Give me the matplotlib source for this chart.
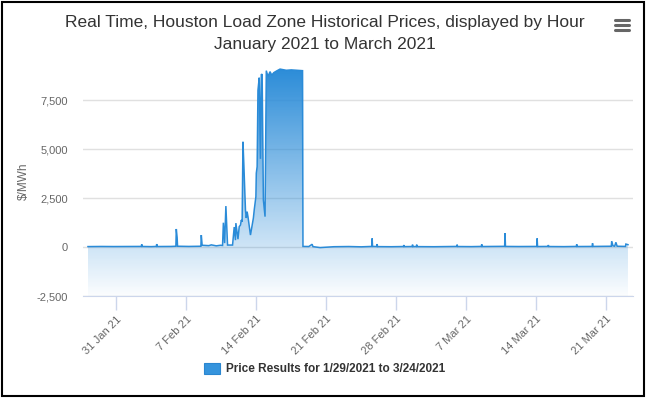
import numpy as np
import pandas as pd
import matplotlib
matplotlib.use("Agg")
import matplotlib.pyplot as plt
import matplotlib.dates as mdates
from matplotlib.patches import Rectangle
from matplotlib.lines import Line2D

plt.rcParams['font.family'] = ['Liberation Sans', 'DejaVu Sans']

# hourly RT prices, Houston load zone ($/MWh)
times = [
    "2021-01-28 04:00", "2021-01-29 12:00", "2021-01-30 18:00", "2021-02-01 06:00",
    "2021-02-02 12:00", "2021-02-02 13:00", "2021-02-02 14:00", "2021-02-03 12:00",
    "2021-02-04 00:00", "2021-02-04 01:00", "2021-02-04 02:00", "2021-02-05 12:00",
    "2021-02-05 23:00", "2021-02-06 00:00", "2021-02-06 02:00", "2021-02-06 03:00",
    "2021-02-07 06:00", "2021-02-08 11:00", "2021-02-08 12:00", "2021-02-08 14:00",
    "2021-02-09 06:00", "2021-02-09 12:00", "2021-02-10 00:00", "2021-02-10 10:00",
    "2021-02-10 15:00", "2021-02-10 17:00", "2021-02-10 20:00", "2021-02-10 23:00",
    "2021-02-11 03:00", "2021-02-11 15:00", "2021-02-11 19:00", "2021-02-11 22:00",
    "2021-02-11 23:00", "2021-02-12 04:00", "2021-02-12 07:00", "2021-02-12 10:00",
    "2021-02-12 12:00", "2021-02-12 14:00", "2021-02-12 16:00", "2021-02-12 18:00",
    "2021-02-12 22:00", "2021-02-13 00:00", "2021-02-13 02:00", "2021-02-13 04:00",
    "2021-02-13 10:00", "2021-02-13 14:00", "2021-02-13 17:00", "2021-02-13 19:00",
    "2021-02-13 23:00", "2021-02-14 00:00", "2021-02-14 02:00", "2021-02-14 04:00",
    "2021-02-14 07:00", "2021-02-14 10:00", "2021-02-14 12:00", "2021-02-14 14:00",
    "2021-02-14 17:00", "2021-02-14 21:00", "2021-02-15 00:00", "2021-02-15 04:00",
    "2021-02-15 09:00", "2021-02-15 13:00", "2021-02-15 18:00", "2021-02-16 02:00",
    "2021-02-16 09:00", "2021-02-17 00:00", "2021-02-17 12:00", "2021-02-18 06:00",
    "2021-02-18 15:00", "2021-02-18 16:00", "2021-02-19 06:00", "2021-02-19 14:00",
    "2021-02-19 16:00", "2021-02-20 09:00", "2021-02-21 18:00", "2021-02-23 06:00",
    "2021-02-24 12:00", "2021-02-25 13:00", "2021-02-25 14:00", "2021-02-25 15:00",
    "2021-02-26 01:00", "2021-02-26 02:00", "2021-02-26 03:00", "2021-02-27 12:00",
    "2021-02-28 17:00", "2021-02-28 18:00", "2021-02-28 19:00", "2021-03-01 14:00",
    "2021-03-01 15:00", "2021-03-01 16:00", "2021-03-02 00:00", "2021-03-02 01:00",
    "2021-03-02 02:00", "2021-03-03 18:00", "2021-03-05 06:00", "2021-03-06 01:00",
    "2021-03-06 02:00", "2021-03-06 03:00", "2021-03-07 12:00", "2021-03-08 12:00",
    "2021-03-08 13:00", "2021-03-08 14:00", "2021-03-09 18:00", "2021-03-10 20:00",
    "2021-03-10 21:00", "2021-03-10 22:00", "2021-03-12 06:00", "2021-03-14 01:00",
    "2021-03-14 02:00", "2021-03-14 03:00", "2021-03-15 04:00", "2021-03-15 05:00",
    "2021-03-15 06:00", "2021-03-16 18:00", "2021-03-18 00:00", "2021-03-18 01:00",
    "2021-03-18 02:00", "2021-03-19 14:00", "2021-03-19 15:00", "2021-03-19 16:00",
    "2021-03-20 18:00", "2021-03-21 12:00", "2021-03-21 13:00", "2021-03-21 16:00",
    "2021-03-21 20:00", "2021-03-21 23:00", "2021-03-22 02:00", "2021-03-22 22:00",
    "2021-03-22 23:00", "2021-03-23 04:00",
]
prices = [
    22, 28, 24, 30,
    30, 140, 28, 20,
    30, 150, 25, 30,
    40, 920, 480, 40,
    30, 40, 610, 90,
    70, 110, 60, 90,
    80, 1240, 200, 2090,
    100, 100, 1020, 350,
    1220, 400, 1040, 1120,
    1380, 1290, 5370, 4280,
    1890, 1480, 1800, 1550,
    610, 1120, 1480, 1890,
    2570, 3770, 4100, 8000,
    8640, 4500, 8800, 8820,
    2400, 1550, 9000, 8700,
    8950, 8770, 8900, 9000,
    9080, 9020, 9040, 9010,
    9000, 30, 25, 140,
    20, -30, 15, 25,
    10, 30, 440, 30,
    25, 150, 20, 15,
    25, 100, 20, 25,
    120, 20, 25, 120,
    20, 15, 25, 30,
    120, 25, 20, 30,
    140, 25, 30, 35,
    700, 30, 25, 30,
    440, 25, 30, 100,
    25, 20, 30, 140,
    25, 30, 190, 30,
    35, 40, 300, 60,
    40, 240, 40, 30,
    150, 120,
]

ytick_vals = [-2500, 0, 2500, 5000, 7500]
xtick_dates = ["2021-01-31", "2021-02-07", "2021-02-14", "2021-02-21",
               "2021-02-28", "2021-03-07", "2021-03-14", "2021-03-21"]
xtick_labels = ["31 Jan 21", "7 Feb 21", "14 Feb 21", "21 Feb 21",
                "28 Feb 21", "7 Mar 21", "14 Mar 21", "21 Mar 21"]
legend_label = "Price Results for 1/29/2021 to 3/24/2021"

x = mdates.date2num(pd.to_datetime(times))
y = np.array(prices, dtype=float)

W, H = 648, 399
fig = plt.figure(figsize=(W / 100, H / 100), dpi=100)
ax = fig.add_axes([83 / W, 103 / H, 550 / W, 241 / H])

ymin, ymax = -2500, 9800
base = mdates.date2num(pd.Timestamp("2021-01-31"))
ax.set_xlim(base - 3.33, base + 51.67)
ax.set_ylim(ymin, ymax)

# spines first: set_position resets the ticks
for s in ['top', 'right', 'left']:
    ax.spines[s].set_visible(False)
ax.spines['bottom'].set_color('#ccd6eb')
ax.spines['bottom'].set_position(('data', ymin))

# area with vertical gradient clipped to it
poly = ax.fill_between(x, y, ymin, facecolor='none', edgecolor='none')
grad = np.zeros((256, 1, 4))
grad[:, 0, 0] = 0.17
grad[:, 0, 1] = 0.55
grad[:, 0, 2] = 0.85
grad[:, 0, 3] = np.linspace(1.0, 0.02, 256)
im = ax.imshow(grad, extent=[x.min(), x.max(), ymin, 9050], aspect='auto',
               origin='upper', zorder=2)
im.set_clip_path(poly.get_paths()[0], transform=ax.transData)
ax.plot(x, y, color='#2a8bd8', lw=1.1, zorder=3, solid_joinstyle='miter')

ax.set_yticks(ytick_vals)
ax.set_yticklabels([f"{v:,}" for v in ytick_vals])
ax.yaxis.grid(True, color='#e0e0e0', lw=1)
ax.set_axisbelow(True)
ax.tick_params(axis='y', length=0, pad=11, labelsize=8, labelcolor='#666666')

ax.tick_params(axis='x', length=10, width=1, color='#ccd6eb', pad=3,
               labelsize=8, labelcolor='#666666')
ax.set_xticks(mdates.date2num(pd.to_datetime(xtick_dates)))
ax.set_xticklabels(xtick_labels, rotation=45, ha='right',
                   rotation_mode='anchor')

ax.set_ylabel("$/MWh", color='#666666', fontsize=8.5)
ax.yaxis.set_label_coords((30 - 83) / 550, (296 - 181) / 241)

fig.text(325 / W, 1 - 22 / H,
         "Real Time, Houston Load Zone Historical Prices, displayed by Hour",
         ha='center', va='center', fontsize=12.5, color='#333333')
fig.text(325 / W, 1 - 44 / H, "January 2021 to March 2021",
         ha='center', va='center', fontsize=12.5, color='#333333')

# legend
fig.patches.append(Rectangle((204 / W, 1 - 374 / H), 16 / W, 11 / H,
                             transform=fig.transFigure, facecolor='#3594dd',
                             edgecolor='#2a86d0', lw=0.8))
fig.text(226 / W, 1 - 369 / H, legend_label, ha='left', va='center',
         fontsize=8.5, fontweight='bold', color='#333333')

# menu icon
for yy in [20, 25, 30]:
    fig.lines.append(Line2D([615 / W, 629 / W], [1 - yy / H, 1 - yy / H],
                            transform=fig.transFigure, color='#666666', lw=2.2,
                            solid_capstyle='round'))

# outer frame
fig.patches.append(Rectangle((1.5 / W, 1 - 396 / H), 642.5 / W, 394.5 / H,
                             transform=fig.transFigure, facecolor='none',
                             edgecolor='black', lw=1.5))

fig.savefig("out.png", dpi=100)
